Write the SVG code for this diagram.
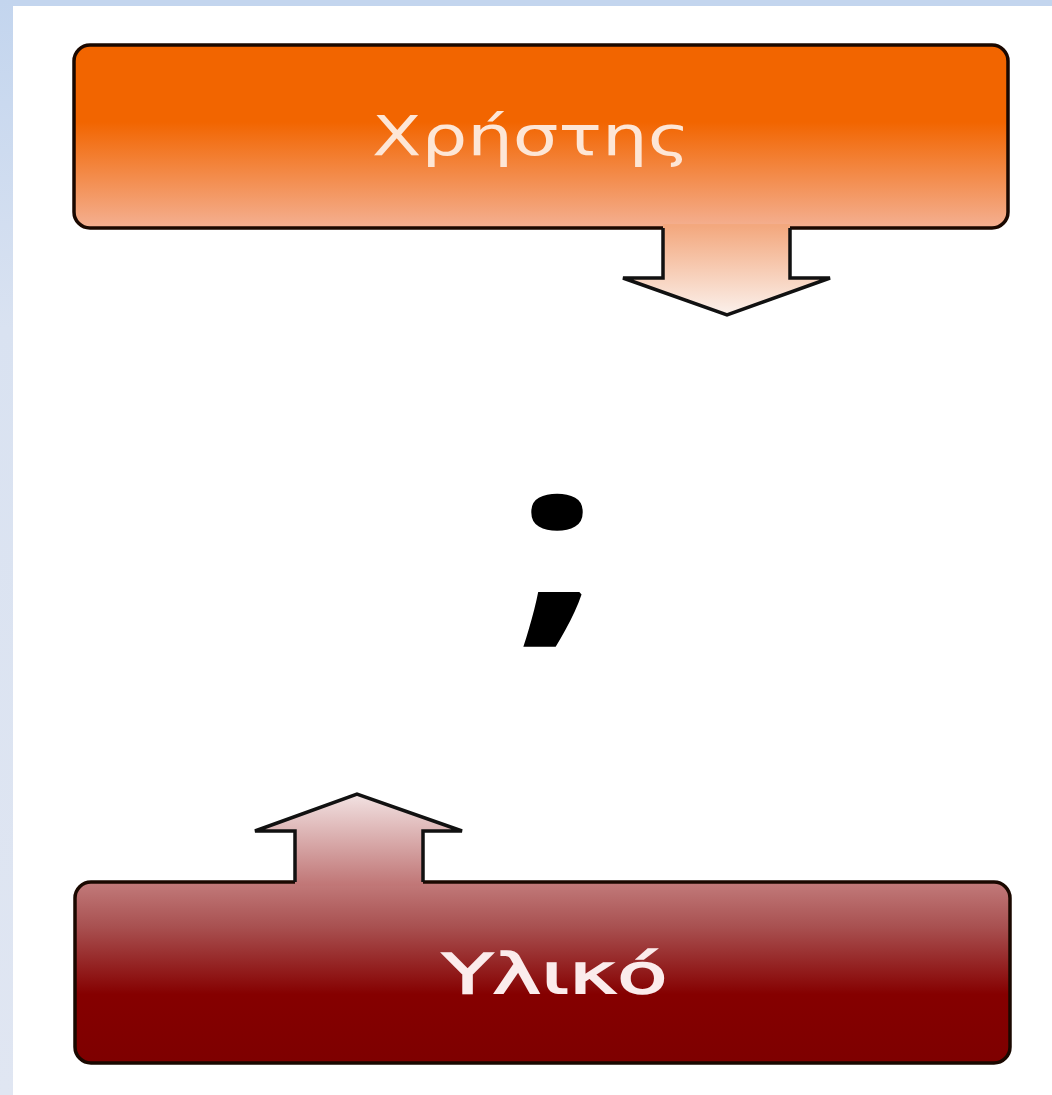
<svg xmlns="http://www.w3.org/2000/svg" width="1052" height="1095" viewBox="0 0 1052 1095">
  <defs>
    <linearGradient id="bandV" x1="0" y1="0" x2="0" y2="1">
      <stop offset="0" stop-color="#c3d5ee"/>
      <stop offset="0.3" stop-color="#d9e2f1"/>
      <stop offset="1" stop-color="#e0e6f2"/>
    </linearGradient>
    <linearGradient id="topBox" gradientUnits="userSpaceOnUse" x1="0" y1="45" x2="0" y2="228">
      <stop offset="0" stop-color="#f26500"/>
      <stop offset="0.42" stop-color="#f26500"/>
      <stop offset="1" stop-color="#f4b092"/>
    </linearGradient>
    <linearGradient id="topArrow" gradientUnits="userSpaceOnUse" x1="0" y1="226" x2="0" y2="315">
      <stop offset="0" stop-color="#f3a87e"/>
      <stop offset="1" stop-color="#fbf1ec"/>
    </linearGradient>
    <linearGradient id="botBox" gradientUnits="userSpaceOnUse" x1="0" y1="882" x2="0" y2="1063">
      <stop offset="0" stop-color="#c27b7b"/>
      <stop offset="0.25" stop-color="#a85050"/>
      <stop offset="0.62" stop-color="#850000"/>
      <stop offset="1" stop-color="#7e0000"/>
    </linearGradient>
    <linearGradient id="botArrow" gradientUnits="userSpaceOnUse" x1="0" y1="794" x2="0" y2="885">
      <stop offset="0" stop-color="#f2e2e2"/>
      <stop offset="1" stop-color="#c07676"/>
    </linearGradient>
    <style>
      .box { stroke: #1a0800; stroke-width: 3.5; }
      .arr { stroke: #111; stroke-width: 3.5; stroke-linejoin: miter; }
      .lbl { font-family: "DejaVu Sans", "Open Sans", sans-serif; font-size: 56px; text-anchor: middle; }
    </style>
  </defs>

  <rect x="0" y="0" width="1052" height="1095" fill="#ffffff"/>
  <rect x="0" y="0" width="1052" height="6" fill="#c3d5ee"/>
  <rect x="0" y="0" width="13" height="1095" fill="url(#bandV)"/>

  <g id="node-user">
    <rect class="box" x="74" y="45" width="934" height="183" rx="16" ry="16" fill="url(#topBox)"/>
    <text class="lbl" x="531" y="155" fill="#fde6d6" textLength="318" lengthAdjust="spacingAndGlyphs">Χρήστης</text>
  </g>

  <g id="node-hardware">
    <rect class="box" x="75" y="882" width="935" height="181" rx="16" ry="16" fill="url(#botBox)"/>
    <text class="lbl" x="555" y="993" fill="#fbecec" stroke="#fbecec" stroke-width="1.6" textLength="225" lengthAdjust="spacingAndGlyphs">Υλικό</text>
  </g>

  <g id="node-question">
    <text x="0" y="0" transform="translate(557 618) scale(1.4 1.04)" font-family="'Open Sans', 'DejaVu Sans', sans-serif" font-weight="700" font-size="215" text-anchor="middle" fill="#000">;</text>
  </g>

  <g id="connectors">
    <polygon points="663,224 790,224 790,278 830,278 727,315 623,278 663,278" fill="url(#topArrow)" stroke="none"/>
    <polyline class="arr" fill="none" points="663,228 663,278 623,278 727,315 830,278 790,278 790,228"/>
    <polygon points="295,886 295,831 255,831 357,794 462,831 423,831 423,886" fill="url(#botArrow)" stroke="none"/>
    <polyline class="arr" fill="none" points="295,882 295,831 255,831 357,794 462,831 423,831 423,882"/>
  </g>
</svg>
